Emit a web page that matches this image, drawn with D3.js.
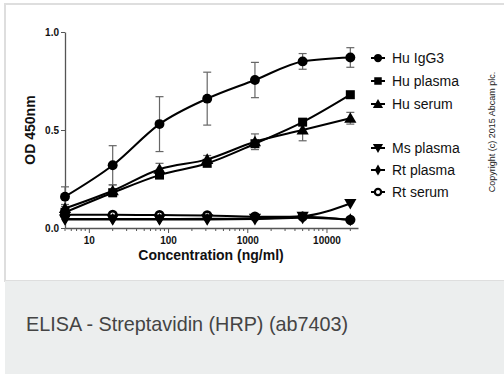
<!DOCTYPE html>
<html>
<head>
<meta charset="utf-8">
<script src="https://cdn.jsdelivr.net/npm/d3@7"></script>
<style>
  body { margin: 0; background: #fff; }
  svg { display: block; }
</style>
</head>
<body>
<script>
// concentrations (ng/ml), 4-fold dilutions
let conc = [5, 20, 78, 312, 1250, 5000, 20000];

let huIgG3 = [0.16, 0.32, 0.53, 0.66, 0.755, 0.85, 0.87];
let huIgG3Err = [0.05, 0.10, 0.14, 0.135, 0.09, 0.04, 0.05];
let huPlasma = [0.08, 0.18, 0.27, 0.33, 0.43, 0.54, 0.68];
let huPlasmaErr = [0, 0, 0, 0, 0, 0, 0];
let huSerum = [0.10, 0.19, 0.30, 0.35, 0.44, 0.50, 0.56];
let huSerumErr = [0.02, 0.03, 0.03, 0.02, 0.04, 0.055, 0.03];
let msPlasma = [0.046, 0.046, 0.046, 0.047, 0.05, 0.06, 0.125];
let rtPlasma = [0.044, 0.044, 0.044, 0.044, 0.046, 0.052, 0.042];
let rtSerum = [0.068, 0.067, 0.066, 0.064, 0.058, 0.058, 0.042];

let seriesNames = ["Hu IgG3", "Hu plasma", "Hu serum", "Ms plasma", "Rt plasma", "Rt serum"];
let xTicks = [10, 100, 1000, 10000];
let yTicks = [0, 0.5, 1.0];

let series = [
    {name: seriesNames[0], values: huIgG3, err: huIgG3Err, sym: "circle"},
    {name: seriesNames[1], values: huPlasma, err: huPlasmaErr, sym: "square"},
    {name: seriesNames[2], values: huSerum, err: huSerumErr, sym: "triangle"},
    {name: seriesNames[3], values: msPlasma, err: null, sym: "down"},
    {name: seriesNames[4], values: rtPlasma, err: null, sym: "diamond"},
    {name: seriesNames[5], values: rtSerum, err: null, sym: "ocircle"}
];

let W = 504, H = 374;
let svg = d3.select("body").append("svg")
    .attr("width", W)
    .attr("height", H);

// card + caption panel
svg.append("rect")
    .attr("x", 5).attr("y", 4).attr("width", W - 4).attr("height", 277)
    .style("fill", "#fff").style("stroke", "#dedede").style("stroke-width", 2);
svg.append("rect")
    .attr("x", 5).attr("y", 281).attr("width", W - 5).attr("height", H - 281)
    .style("fill", "#eceeee");
svg.append("text")
    .text("ELISA - Streptavidin (HRP) (ab7403)")
    .attr("x", 26).attr("y", 331)
    .style("font-family", "Liberation Sans, Arial, sans-serif")
    .style("font-size", "19.8px")
    .style("fill", "#444");

let x = d3.scaleLog().domain([5, 25000]).range([65, 358]);
let y = d3.scaleLinear().domain([0, 1]).range([228, 32]);

let font = "Liberation Sans, Arial, sans-serif";

// axes
let xAxis = svg.append("g")
    .attr("transform", "translate(0,228)")
    .call(d3.axisBottom(x).tickValues(xTicks).tickFormat(d3.format("d")).tickSize(5).tickSizeOuter(0));
let minor = [];
[1, 10, 100, 1000, 10000].forEach(function(dec) {
    for (let k = 2; k <= 9; k++) {
        let v = dec * k;
        if (v >= 5 && v <= 25000) minor.push(v);
    }
});
xAxis.selectAll(".minor")
    .data(minor)
    .enter().append("line")
    .attr("class", "minor")
    .attr("x1", function(d) { return x(d); })
    .attr("x2", function(d) { return x(d); })
    .attr("y1", 0).attr("y2", 3)
    .style("stroke", "#555");

let yAxis = svg.append("g")
    .attr("transform", "translate(65,0)")
    .call(d3.axisLeft(y).tickValues(yTicks).tickFormat(d3.format(".1f")).tickSize(4).tickSizeOuter(0));

[xAxis, yAxis].forEach(function(a) {
    a.select(".domain").style("stroke", "#555").style("stroke-width", 1.3);
    a.selectAll(".tick line").style("stroke", "#555");
    a.selectAll("text")
        .style("font-family", font)
        .style("font-size", "10px")
        .style("font-weight", "bold")
        .style("fill", "#111");
});
xAxis.selectAll("text").attr("dy", "0.85em").attr("y", 7);
yAxis.selectAll("text").attr("x", -6);

svg.append("text")
    .text("Concentration (ng/ml)")
    .attr("x", 211).attr("y", 260)
    .attr("text-anchor", "middle")
    .style("font-family", font).style("font-size", "14px").style("font-weight", "bold")
    .style("fill", "#111");

svg.append("text")
    .text("OD 450nm")
    .attr("transform", "translate(35,130) rotate(-90)")
    .attr("text-anchor", "middle")
    .style("font-family", font).style("font-size", "14px").style("font-weight", "bold")
    .style("fill", "#111");

// symbols
function drawSymbol(g, sym, cx, cy, s) {
    if (sym === "circle") {
        g.append("circle").attr("cx", cx).attr("cy", cy).attr("r", s * 0.55).style("fill", "#000");
    } else if (sym === "ocircle") {
        g.append("circle").attr("cx", cx).attr("cy", cy).attr("r", s * 0.42)
            .style("fill", "#fff").style("stroke", "#000").style("stroke-width", s * 0.3);
    } else if (sym === "square") {
        g.append("rect").attr("x", cx - s * 0.5).attr("y", cy - s * 0.5)
            .attr("width", s).attr("height", s).style("fill", "#000");
    } else if (sym === "triangle") {
        g.append("path").attr("d", d3.symbol().type(d3.symbolTriangle).size(s * s * 0.8)())
            .attr("transform", "translate(" + cx + "," + (cy + 1) + ")").style("fill", "#000");
    } else if (sym === "down") {
        g.append("path").attr("d", d3.symbol().type(d3.symbolTriangle).size(s * s * 0.8)())
            .attr("transform", "translate(" + cx + "," + (cy - 1) + ") rotate(180)").style("fill", "#000");
    } else if (sym === "diamond") {
        g.append("path").attr("d", d3.symbol().type(d3.symbolDiamond).size(s * s * 0.6)())
            .attr("transform", "translate(" + cx + "," + cy + ")").style("fill", "#000");
    }
}

let line = d3.line()
    .x(function(d) { return x(d.c); })
    .y(function(d) { return y(d.v); })
    .curve(d3.curveMonotoneX);

let plot = svg.append("g");

// error bars first
series.forEach(function(s) {
    if (!s.err) return;
    s.values.forEach(function(v, i) {
        let e = s.err[i];
        if (!e) return;
        let cx = x(conc[i]);
        let g = plot.append("g").style("stroke", "#666").style("stroke-width", 1.2);
        g.append("line").attr("x1", cx).attr("x2", cx).attr("y1", y(v + e)).attr("y2", y(v - e));
        g.append("line").attr("x1", cx - 4).attr("x2", cx + 4).attr("y1", y(v + e)).attr("y2", y(v + e));
        g.append("line").attr("x1", cx - 4).attr("x2", cx + 4).attr("y1", y(v - e)).attr("y2", y(v - e));
    });
});

series.forEach(function(s) {
    let pts = s.values.map(function(v, i) { return {c: conc[i], v: v}; });
    plot.append("path")
        .datum(pts)
        .attr("d", line)
        .style("fill", "none")
        .style("stroke", "#000")
        .style("stroke-width", 2);
});

series.slice().reverse().forEach(function(s) {
    s.values.forEach(function(v, i) {
        drawSymbol(plot, s.sym, x(conc[i]), y(v), 9);
    });
});

// legend
let legendY = [58, 81, 104, 148, 170, 192];
let legend = svg.append("g");
series.forEach(function(s, i) {
    let ly = legendY[i];
    legend.append("line").attr("x1", 371).attr("x2", 385).attr("y1", ly).attr("y2", ly)
        .style("stroke", "#000").style("stroke-width", 2);
    drawSymbol(legend, s.sym, 378, ly, 7.5);
    legend.append("text")
        .text(s.name)
        .attr("x", 392).attr("y", ly + 5)
        .style("font-family", font).style("font-size", "14px")
        .style("fill", "#111");
});

svg.append("text")
    .text("Copyright (c) 2015 Abcam plc.")
    .attr("transform", "translate(495,132) rotate(-90)")
    .attr("text-anchor", "middle")
    .style("font-family", font).style("font-size", "9px")
    .style("fill", "#222");
</script>
</body>
</html>
